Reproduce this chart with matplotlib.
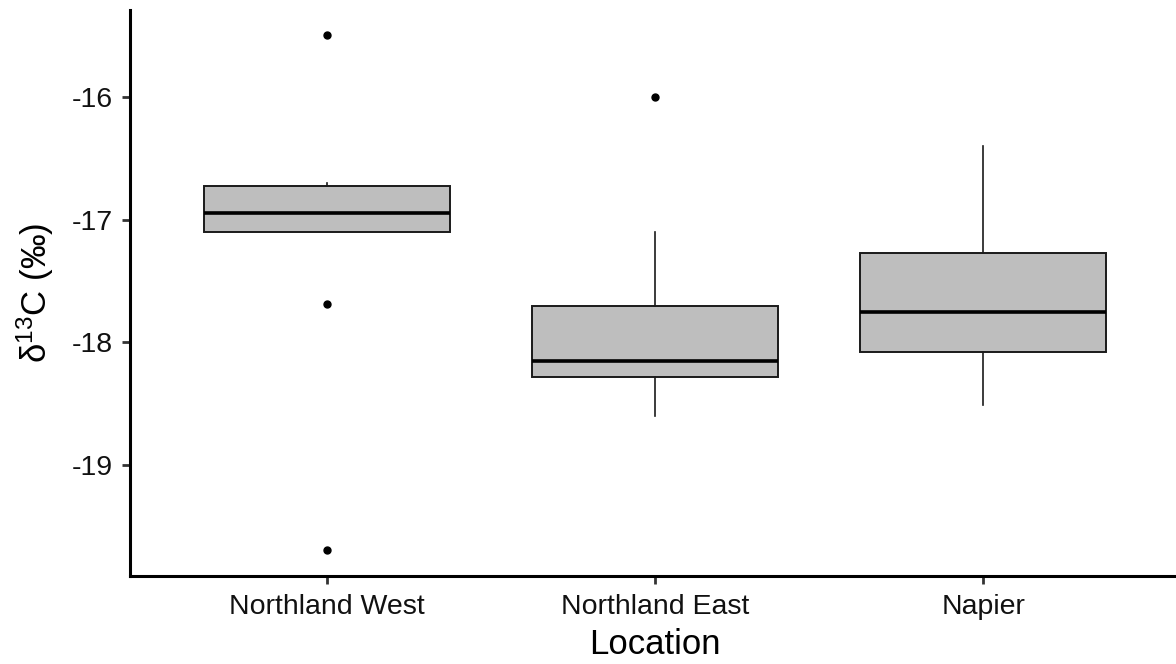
import matplotlib
matplotlib.use('Agg')
import matplotlib.pyplot as plt

plt.rcParams['font.family'] = ['Liberation Sans', 'DejaVu Sans']
plt.rcParams['mathtext.fontset'] = 'custom'
plt.rcParams['mathtext.rm'] = 'Liberation Sans'
plt.rcParams['mathtext.default'] = 'regular'

# summary stats
locations = ['Northland West', 'Northland East', 'Napier']
q1 = [-17.10, -18.28, -18.075]
med = [-16.95, -18.15, -17.75]
q3 = [-16.73, -17.70, -17.27]
whislo = [-17.10, -18.60, -18.51]
whishi = [-16.70, -17.10, -16.40]
fliers = [[-15.50, -17.69, -19.69], [-16.00], []]

stats = []
for i, name in enumerate(locations):
    stats.append(dict(label=name, q1=q1[i], med=med[i], q3=q3[i],
                      whislo=whislo[i], whishi=whishi[i], fliers=fliers[i]))

fig = plt.figure(figsize=(11.76, 6.64), dpi=100)
ax = fig.add_axes([130 / 1176, 88 / 664, 1050 / 1176, 566 / 664])

ax.bxp(stats, positions=[1, 2, 3], widths=0.75, patch_artist=True,
       showcaps=False,
       boxprops=dict(facecolor='#bebebe', edgecolor='#1a1a1a', linewidth=1.4),
       medianprops=dict(color='black', linewidth=2.6),
       whiskerprops=dict(color='#1a1a1a', linewidth=1.2),
       flierprops=dict(marker='o', markerfacecolor='black', markeredgecolor='black',
                       markersize=5, linestyle='none'))

ax.set_xlim(0.4, 3.6)
ax.set_ylim(-19.9, -15.295)
ax.set_yticks([-19, -18, -17, -16])
ax.set_yticklabels(['-19', '-18', '-17', '-16'])

for side in ['top', 'right']:
    ax.spines[side].set_visible(False)
for side in ['left', 'bottom']:
    ax.spines[side].set_linewidth(2.2)
    ax.spines[side].set_color('black')

ax.tick_params(axis='both', length=6, width=2, color='#333333',
               labelsize=20.5, labelcolor='#111111')
ax.tick_params(axis='x', pad=7)
ax.tick_params(axis='y', pad=6)

ax.set_xlabel('Location', fontsize=25, labelpad=6)
ax.set_ylabel(r'$\delta^{13}$C (‰)', fontsize=25, labelpad=12)

fig.savefig('out.png', dpi=100)
